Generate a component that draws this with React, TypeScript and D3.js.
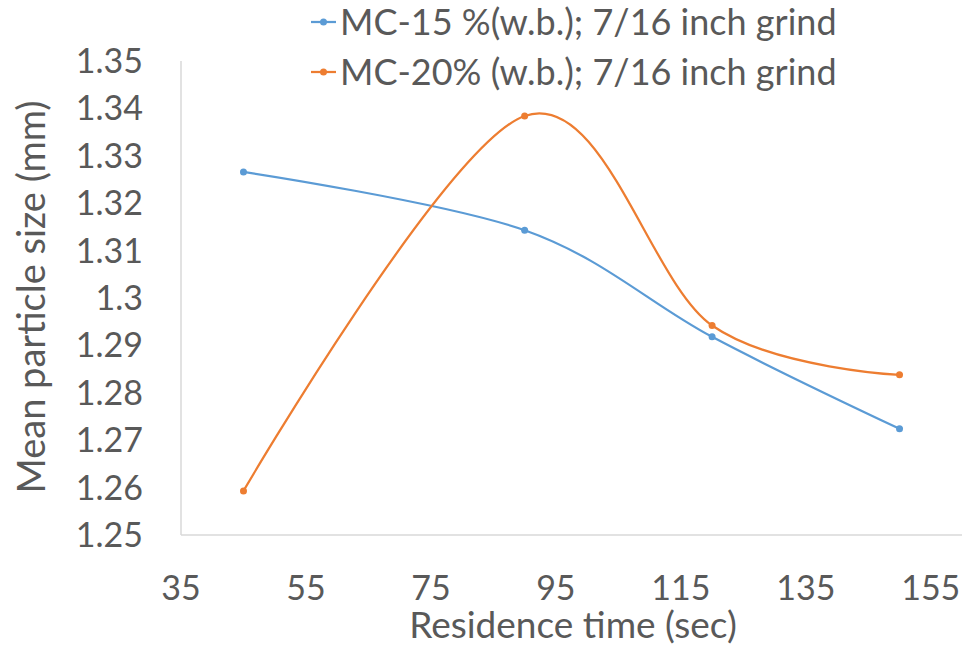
import * as d3 from "d3";

const times = [45, 90, 120, 150];
const mc15 = [1.3266, 1.3143, 1.2918, 1.2724];
const mc20 = [1.2593, 1.3384, 1.2942, 1.2838];
const xTicks = [35, 55, 75, 95, 115, 135, 155];
const yTicks = [1.25, 1.26, 1.27, 1.28, 1.29, 1.3, 1.31, 1.32, 1.33, 1.34, 1.35];

const series = [
  { label: "MC-15 %(w.b.); 7/16 inch grind", values: mc15, color: "#5b9bd5" },
  { label: "MC-20% (w.b.); 7/16 inch grind", values: mc20, color: "#ed7d31" },
];

const font = "Lato, 'Open Sans', sans-serif";
const textColor = "#595959";

export default function App() {
  const width = 963;
  const height = 649;
  const margin = { top: 61, right: 1, bottom: 114, left: 181 };
  const x = d3.scaleLinear().domain([35, 160]).range([margin.left, width - margin.right]);
  const y = d3.scaleLinear().domain([1.25, 1.35]).range([height - margin.bottom, margin.top]);
  const line = d3
    .line<[number, number]>()
    .x((d) => x(d[0]))
    .y((d) => y(d[1]))
    .curve(d3.curveCardinal.tension(0));

  return (
    <svg width={width} height={height} style={{ position: "absolute", left: 0, top: 0, background: "#fff" }} fontFamily={font}>
      <line x1={x(35)} x2={x(35)} y1={y(1.35)} y2={y(1.25)} stroke="#d9d9d9" strokeWidth={1.5} />
      <line x1={x(35)} x2={x(160)} y1={y(1.25)} y2={y(1.25)} stroke="#d9d9d9" strokeWidth={1.5} />
      {yTicks.map((t) => (
        <text key={t} x={margin.left - 38} y={y(t) + 12} textAnchor="end" fontSize={34} fill={textColor}>
          {d3.format("")(+t.toFixed(2))}
        </text>
      ))}
      {xTicks.map((t) => (
        <text key={t} x={x(t)} y={height - 49} textAnchor="middle" fontSize={34} fill={textColor}>
          {t}
        </text>
      ))}
      <text x={573} y={height - 11} textAnchor="middle" fontSize={37} fill={textColor}>
        Residence time (sec)
      </text>
      <text
        x={45}
        y={297}
        transform="rotate(-90 45 297)"
        textAnchor="middle"
        fontSize={38}
        fill={textColor}
      >
        Mean particle size (mm)
      </text>
      {series.map((s) => {
        const pts = times.map((t, i) => [t, s.values[i]] as [number, number]);
        return (
          <g key={s.label}>
            <path d={line(pts) ?? ""} fill="none" stroke={s.color} strokeWidth={2.25} />
            {pts.map((p) => (
              <circle key={p[0]} cx={x(p[0])} cy={y(p[1])} r={3.5} fill={s.color} />
            ))}
          </g>
        );
      })}
      {series.map((s, i) => (
        <g key={s.label} transform={`translate(311, ${22 + i * 50})`}>
          <line x1={0} x2={25} y1={0} y2={0} stroke={s.color} strokeWidth={2.25} />
          <circle cx={12.5} cy={0} r={3.5} fill={s.color} />
          <text x={29} y={13} fontSize={36} fill={textColor}>
            {s.label}
          </text>
        </g>
      ))}
    </svg>
  );
}
